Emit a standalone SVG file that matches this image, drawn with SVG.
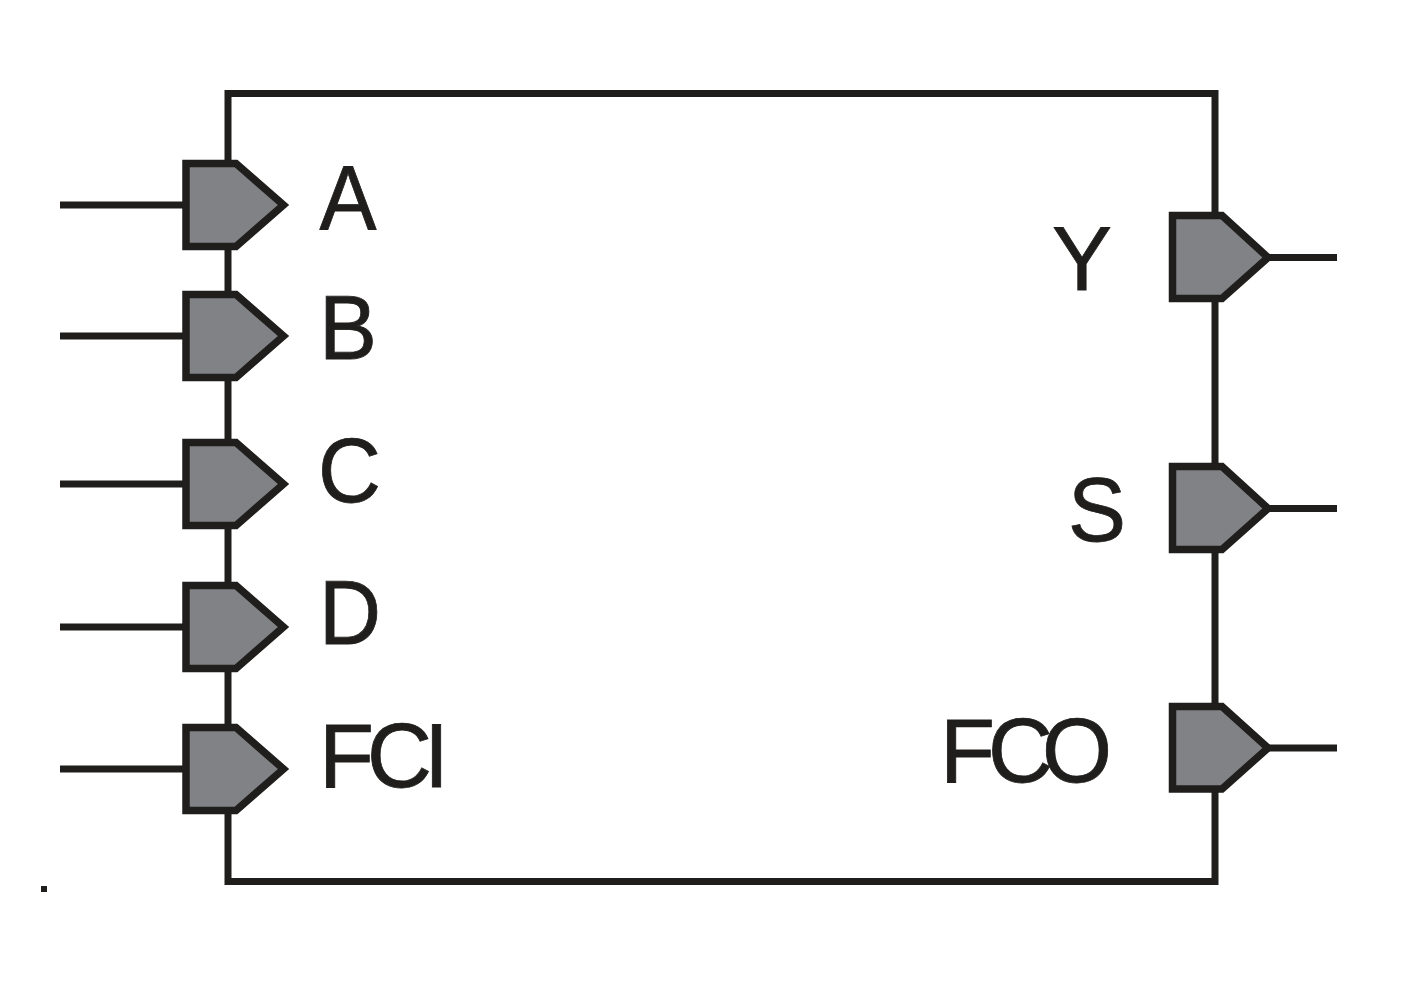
<svg xmlns="http://www.w3.org/2000/svg" width="1403" height="992" viewBox="0 0 1403 992">
<style>
.l{fill:none;stroke:#1f1e1c;stroke-width:7}
.p{fill:#808285;stroke:#1f1e1c;stroke-width:7.5;stroke-miterlimit:10}
text{font-family:"Liberation Sans",Arial,sans-serif;font-size:90px;fill:#1f1e1c;stroke:#1f1e1c;stroke-width:.8}
</style>
<rect width="1403" height="992" fill="#fff"/>
<g id="connectors">
<rect class="l" x="228" y="93.500" width="987" height="788"/>
<path class="l" d="M60 205H186M60 336H186M60 484H186M60 627H186M60 769H186M1268 257.500H1337M1268 508.500H1337M1268 748H1337"/>
</g>
<g id="A"><path class="p" d="M186 163.500H236L283.500 205L236 246.500H186Z"/><text x="319.500" y="228.500" textLength="57" lengthAdjust="spacingAndGlyphs">A</text></g>
<g id="B"><path class="p" d="M186 294.500H236L283.500 336L236 377.500H186Z"/><text x="319" y="359" textLength="58" lengthAdjust="spacingAndGlyphs">B</text></g>
<g id="C"><path class="p" d="M186 442.500H236L283.500 484L236 525.500H186Z"/><text x="318" y="502" textLength="63" lengthAdjust="spacingAndGlyphs">C</text></g>
<g id="D"><path class="p" d="M186 585.500H236L283.500 627L236 668.500H186Z"/><text x="319" y="644" textLength="62" lengthAdjust="spacingAndGlyphs">D</text></g>
<g id="FCI"><path class="p" d="M186 727.500H236L283.500 769L236 810.500H186Z"/><text x="319 367 424" y="787">FCI</text></g>
<g id="Y"><path class="p" d="M1172.500 215.500H1222L1268 257.500L1222 298.500H1172.500Z"/><text x="1052" y="290" textLength="60" lengthAdjust="spacingAndGlyphs">Y</text></g>
<g id="S"><path class="p" d="M1172.500 466.500H1222L1268 508.500L1222 549.500H1172.500Z"/><text x="1068" y="541" textLength="58" lengthAdjust="spacingAndGlyphs">S</text></g>
<g id="FCO"><path class="p" d="M1172.500 706.500H1222L1268 748L1222 789H1172.500Z"/><text x="940 988 1042" y="781.500">FCO</text></g>
<rect x="41" y="886" width="6" height="6" fill="#1f1e1c"/>
</svg>
